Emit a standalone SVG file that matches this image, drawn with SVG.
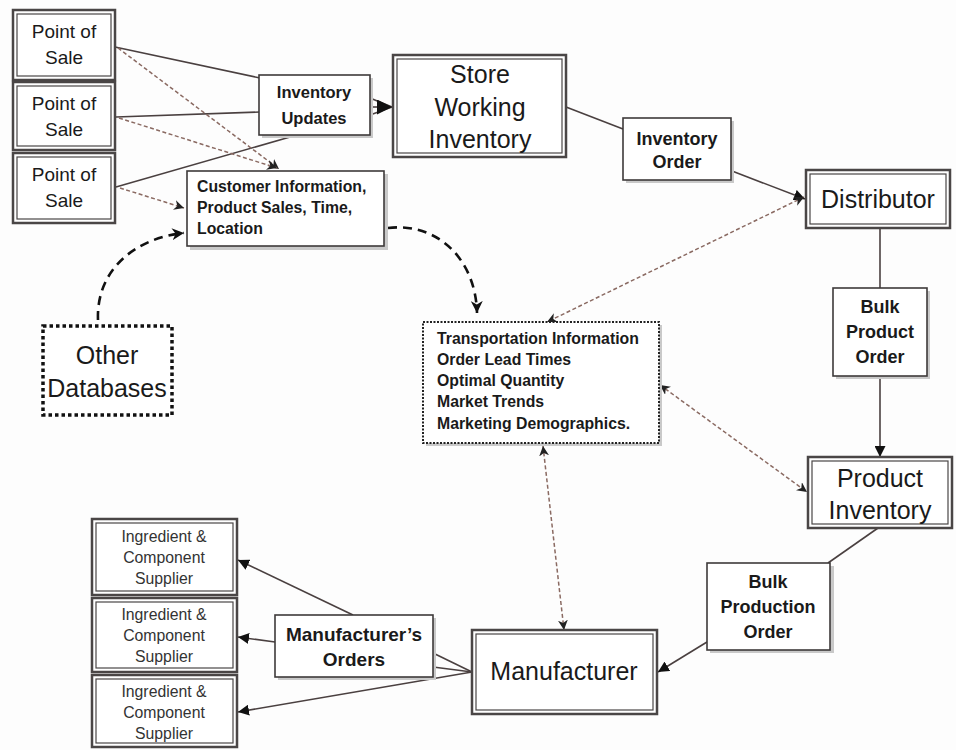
<svg xmlns="http://www.w3.org/2000/svg" width="956" height="750" viewBox="0 0 956 750">
<style>
text{font-family:"Liberation Sans","Noto Sans",Arial,sans-serif;fill:#1a1a1a}
.c{text-anchor:middle}
.big{font-size:25px}
.pos{font-size:19px}
.ing{font-size:15.8px;fill:#333}
.b16{font-size:16.5px;font-weight:bold}
.b15{font-size:15.8px;font-weight:bold}
.b18{font-size:18px;font-weight:bold}
.b19{font-size:19px;font-weight:bold}
.outer{fill:#fff;stroke:#4a4646;stroke-width:2.5}
.inner{fill:none;stroke:#4a4646;stroke-width:1.2}
.single{fill:#fff;stroke:#3e3a3a;stroke-width:1.6}
.shadow{fill:#c9c9c9}
.dotbig{fill:#fff;stroke:#111;stroke-width:3.5;stroke-dasharray:3.5 3}
.dotsmall{fill:#fff;stroke:#222;stroke-width:2;stroke-dasharray:2 1.5}
.solid{fill:none;stroke:#4a4040;stroke-width:1.6}
.thin{fill:none;stroke:#8a6a62;stroke-width:1.5;stroke-dasharray:4 2.5}
.heavy{fill:none;stroke:#111;stroke-width:2.6;stroke-dasharray:9 6}
</style>
<defs>
<marker id="tri" viewBox="0 0 10 10" refX="10" refY="5" markerWidth="11" markerHeight="11" markerUnits="userSpaceOnUse" orient="auto"><path d="M0,0 L10,5 L0,10 z" fill="#111"/></marker>
<marker id="tribig" viewBox="0 0 10 10" refX="10" refY="5" markerWidth="15" markerHeight="15" markerUnits="userSpaceOnUse" orient="auto"><path d="M0,0 L10,5 L0,10 z" fill="#111"/></marker>
<marker id="stealth" viewBox="0 0 10 10" refX="10" refY="5" markerWidth="10" markerHeight="10" markerUnits="userSpaceOnUse" orient="auto-start-reverse"><path d="M0,0 L10,5 L0,10 L3,5 z" fill="#222"/></marker>
<marker id="stealthbig" viewBox="0 0 10 10" refX="10" refY="5" markerWidth="12" markerHeight="12" markerUnits="userSpaceOnUse" orient="auto"><path d="M0,0 L10,5 L0,10 L3,5 z" fill="#111"/></marker>
</defs>
<rect width="956" height="750" fill="#fdfdfd"/>

<g id="connectors">
<line class="solid" x1="115" y1="47" x2="260" y2="78"/>
<line class="solid" x1="116" y1="117" x2="260" y2="112"/>
<line class="solid" x1="116" y1="187" x2="297" y2="135"/>
<line class="solid" x1="370" y1="98" x2="392" y2="107"/>
<line class="solid" x1="370" y1="115" x2="392" y2="107"/>
<line class="solid" x1="370" y1="107" x2="392" y2="107" marker-end="url(#tribig)"/>
<line class="solid" x1="566" y1="107" x2="623" y2="129"/>
<line class="solid" x1="732" y1="171" x2="805" y2="199" marker-end="url(#tri)"/>
<line class="solid" x1="880" y1="227" x2="880" y2="288"/>
<line class="solid" x1="880" y1="376" x2="880" y2="457" marker-end="url(#tri)"/>
<line class="solid" x1="878" y1="528" x2="828" y2="563"/>
<line class="solid" x1="707" y1="642" x2="658" y2="672" marker-end="url(#tri)"/>
<line class="solid" x1="472" y1="672" x2="433" y2="653"/>
<line class="solid" x1="472" y1="672" x2="433" y2="667"/>
<line class="solid" x1="472" y1="672" x2="238" y2="712" marker-end="url(#tri)"/>
<line class="solid" x1="353" y1="615" x2="238" y2="560" marker-end="url(#tri)"/>
<line class="solid" x1="275" y1="642" x2="238" y2="637" marker-end="url(#tri)"/>
<line class="thin" x1="118" y1="48" x2="279" y2="169" marker-end="url(#stealth)"/>
<line class="thin" x1="119" y1="118" x2="277" y2="168" marker-end="url(#stealth)"/>
<line class="thin" x1="120" y1="188" x2="184" y2="208" marker-end="url(#stealth)"/>
<line class="thin" x1="804" y1="197" x2="547" y2="322" marker-start="url(#stealth)" marker-end="url(#stealth)"/>
<line class="thin" x1="660" y1="385" x2="807" y2="492" marker-start="url(#stealth)" marker-end="url(#stealth)"/>
<line class="thin" x1="543" y1="446" x2="564" y2="630" marker-start="url(#stealth)" marker-end="url(#stealth)"/>
<path class="heavy" d="M98,320 C96,270 135,238 184,233" marker-end="url(#stealthbig)"/>
<path class="heavy" d="M388,228 C440,222 476,262 477,313" marker-end="url(#stealthbig)"/>
</g>

<g id="pos1"><rect class="outer" x="13" y="10" width="102" height="70"/><rect class="inner" x="17" y="14" width="94" height="62"/><text class="pos c" x="64" y="38">Point of</text><text class="pos c" x="64" y="64">Sale</text></g>
<g id="pos2"><rect class="outer" x="13" y="82" width="102" height="68"/><rect class="inner" x="17" y="86" width="94" height="60"/><text class="pos c" x="64" y="110">Point of</text><text class="pos c" x="64" y="136">Sale</text></g>
<g id="pos3"><rect class="outer" x="13" y="153" width="102" height="70"/><rect class="inner" x="17" y="157" width="94" height="62"/><text class="pos c" x="64" y="181">Point of</text><text class="pos c" x="64" y="207">Sale</text></g>

<g id="inventory-updates"><rect class="shadow" x="262" y="78" width="111" height="60"/><rect class="single" x="259" y="75" width="111" height="60"/><text class="b16 c" x="314" y="98">Inventory</text><text class="b16 c" x="314" y="124">Updates</text></g>

<g id="store"><rect class="outer" x="393" y="55" width="173" height="102"/><rect class="inner" x="397" y="59" width="165" height="94"/><text class="big c" x="480" y="83">Store</text><text class="big c" x="480" y="116">Working</text><text class="big c" x="480" y="148">Inventory</text></g>

<g id="inventory-order"><rect class="shadow" x="626" y="121" width="108" height="62"/><rect class="single" x="623" y="118" width="108" height="62"/><text class="b18 c" x="677" y="145">Inventory</text><text class="b18 c" x="677" y="168">Order</text></g>

<g id="distributor"><rect class="outer" x="806" y="170" width="144" height="58"/><rect class="inner" x="810" y="174" width="136" height="50"/><text class="big c" x="878" y="208">Distributor</text></g>

<g id="customer-info"><rect class="shadow" x="190" y="174" width="198" height="76"/><rect class="single" x="187" y="171" width="197" height="75"/><text class="b15" x="197" y="192">Customer Information,</text><text class="b15" x="197" y="213">Product Sales, Time,</text><text class="b15" x="197" y="234">Location</text></g>

<g id="other-databases"><rect class="dotbig" x="43" y="326" width="129" height="89"/><text class="big c" x="107" y="364">Other</text><text class="big c" x="107" y="397">Databases</text></g>

<g id="info"><rect class="shadow" x="426" y="325" width="236" height="121"/><rect class="dotsmall" x="423" y="322" width="236" height="121"/><text class="b15" x="437" y="344">Transportation Information</text><text class="b15" x="437" y="365">Order Lead Times</text><text class="b15" x="437" y="386">Optimal Quantity</text><text class="b15" x="437" y="407">Market Trends</text><text class="b15" x="437" y="429">Marketing Demographics.</text></g>

<g id="bulk-product-order"><rect class="shadow" x="836" y="291" width="94" height="88"/><rect class="single" x="833" y="288" width="94" height="88"/><text class="b18 c" x="880" y="313">Bulk</text><text class="b18 c" x="880" y="338">Product</text><text class="b18 c" x="880" y="363">Order</text></g>

<g id="product-inventory"><rect class="outer" x="808" y="457" width="144" height="71"/><rect class="inner" x="812" y="461" width="136" height="63"/><text class="big c" x="880" y="487">Product</text><text class="big c" x="880" y="519">Inventory</text></g>

<g id="bulk-production-order"><rect class="shadow" x="710" y="566" width="124" height="87"/><rect class="single" x="707" y="563" width="123" height="87"/><text class="b18 c" x="768" y="588">Bulk</text><text class="b18 c" x="768" y="613">Production</text><text class="b18 c" x="768" y="638">Order</text></g>

<g id="manufacturer"><rect class="outer" x="472" y="630" width="185" height="84"/><rect class="inner" x="476" y="634" width="177" height="76"/><text class="big c" x="564" y="680">Manufacturer</text></g>

<g id="manufacturers-orders"><rect class="shadow" x="278" y="618" width="158" height="62"/><rect class="single" x="275" y="615" width="158" height="62"/><text class="b19 c" x="354" y="641">Manufacturer’s</text><text class="b19 c" x="354" y="666">Orders</text></g>

<g id="supplier1"><rect class="outer" x="92" y="519" width="145" height="76"/><rect class="inner" x="96" y="523" width="137" height="68"/><text class="ing c" x="164" y="542">Ingredient &amp;</text><text class="ing c" x="164" y="563">Component</text><text class="ing c" x="164" y="584">Supplier</text></g>
<g id="supplier2"><rect class="outer" x="92" y="598" width="145" height="74"/><rect class="inner" x="96" y="602" width="137" height="66"/><text class="ing c" x="164" y="620">Ingredient &amp;</text><text class="ing c" x="164" y="641">Component</text><text class="ing c" x="164" y="662">Supplier</text></g>
<g id="supplier3"><rect class="outer" x="92" y="675" width="145" height="72"/><rect class="inner" x="96" y="679" width="137" height="64"/><text class="ing c" x="164" y="697">Ingredient &amp;</text><text class="ing c" x="164" y="718">Component</text><text class="ing c" x="164" y="739">Supplier</text></g>
</svg>
